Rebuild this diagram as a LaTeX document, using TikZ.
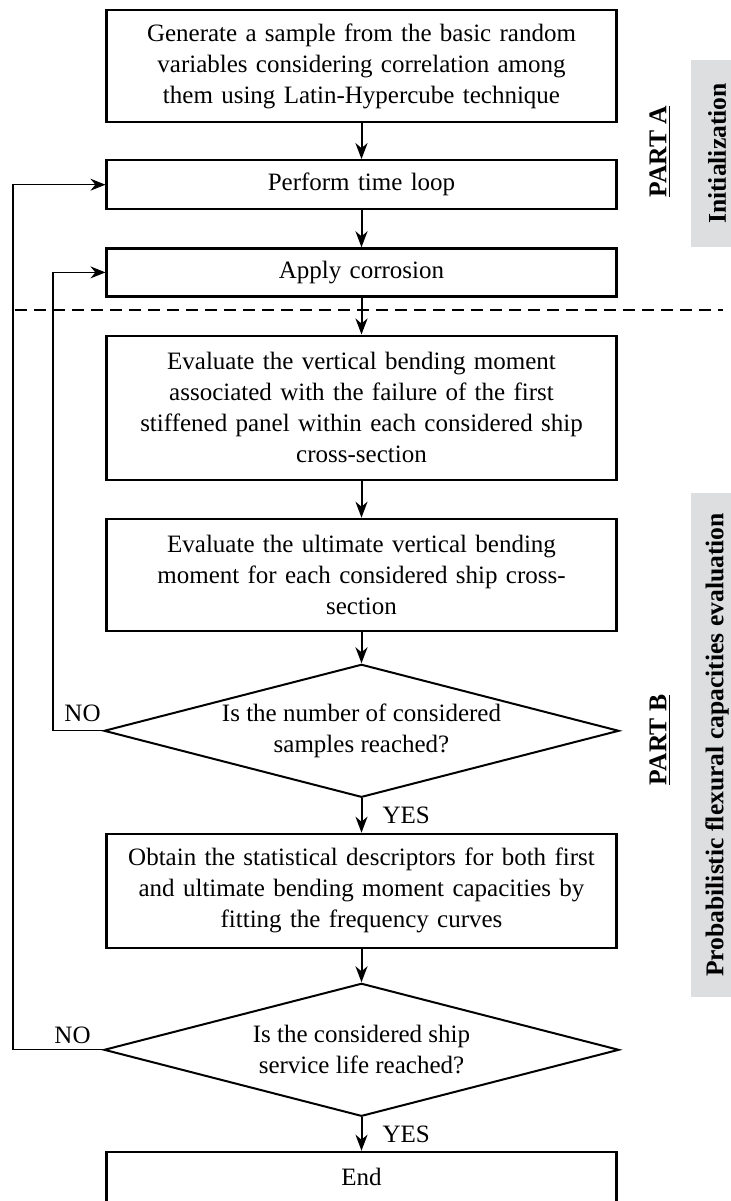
\documentclass[tikz,border=0pt]{standalone}
\usepackage{fontspec}
\setmainfont{Liberation Serif}
\usepackage{tikz}
\usetikzlibrary{shapes.geometric,arrows.meta,positioning}
\definecolor{panelgray}{RGB}{221,222,223}

\begin{document}
\begin{tikzpicture}[x=0.5pt, y=0.5pt,
        stepbox/.style={rectangle, draw=black, line width=1.1pt, text width=246pt,
                        inner xsep=4.5pt, inner ysep=3pt, align=center,
                        font=\fontsize{12.5}{15.5}\selectfont},
        decision/.style={diamond, draw=black, line width=1pt, aspect=3.95,
                         inner sep=0pt, minimum width=257.5pt, minimum height=66.5pt,
                         align=center, font=\fontsize{12.5}{15.5}\selectfont},
        lbl/.style={inner sep=1pt, font=\fontsize{12.5}{15.5}\selectfont},
        part/.style={rotate=90, inner sep=1pt,
                     font=\bfseries\fontsize{12.8}{15.5}\selectfont},
        panel/.style={rotate=90, fill=panelgray, inner sep=0pt, minimum height=26pt,
                      font=\bfseries\fontsize{12.8}{15.5}\selectfont},
        arr/.style={-{Stealth[length=8pt, width=6pt, inset=2.5pt]}, line width=1pt},
        backarr/.style={-{Stealth[length=7.5pt, width=6pt, inset=2.5pt]}, line width=0.55pt},
        sepline/.style={dash pattern=on 6pt off 3.5pt, line width=1pt}]
    \useasboundingbox (0,0) rectangle (730,-1201);
    \node[stepbox, minimum height=56pt] (sample) at (361.5,-66)
        {Generate a sample from the basic random\\variables considering correlation among\\them using Latin-Hypercube technique};
    \node[stepbox, minimum height=24.5pt, below=18pt of sample] (timeloop) {Perform time loop};
    \node[stepbox, minimum height=24pt, below=18.5pt of timeloop] (corrosion) {Apply corrosion};
    \node[stepbox, minimum height=72pt, below=18.5pt of corrosion] (firstfail)
        {Evaluate the vertical bending moment\\associated with the failure of the first\\stiffened panel within each considered ship\\cross-section};
    \node[stepbox, minimum height=56pt, below=18.5pt of firstfail] (ultimate)
        {Evaluate the ultimate vertical bending\\moment for each considered ship cross-\\section};
    \node[decision, below=15.7pt of ultimate] (samplesq) {Is the number of considered\\samples reached?};
    \node[stepbox, minimum height=57pt, below=17.2pt of samplesq] (descriptors)
        {Obtain the statistical descriptors for both first\\and ultimate bending moment capacities by\\fitting the frequency curves};
    \node[decision, below=16.7pt of descriptors] (lifeq) {Is the considered ship\\service life reached?};
    \node[stepbox, minimum height=25.5pt, below=16.7pt of lifeq] (finish) {End};

    \node[panel, minimum width=93.5pt] (initpanel) at (717,-153.5) {Initialization};
    \node[panel, minimum width=252pt] (probpanel) at (717,-745) {Probabilistic flexural capacities evaluation};
    \node[part] (parta) at (660,-151.5) {\underline{PART A}};
    \node[part] (partb) at (660,-740) {\underline{PART B}};

    \draw[sepline] (15,-310) -- (723,-310);

    \draw[arr] (sample) -- (timeloop);
    \draw[arr] (timeloop) -- (corrosion);
    \draw[arr] (corrosion) -- (firstfail);
    \draw[arr] (firstfail) -- (ultimate);
    \draw[arr] (ultimate) -- (samplesq);
    \draw[arr] (samplesq) -- node[lbl, right=9pt] (yesa) {YES} (descriptors);
    \draw[arr] (descriptors) -- (lifeq);
    \draw[arr] (lifeq) -- node[lbl, right=9pt] (yesb) {YES} (finish);

    \draw[backarr] (samplesq.west) -- ++(-50,0) |- (corrosion.west);
    \draw[backarr] (lifeq.west) -- ++(-90,0) |- (timeloop.west);
    \node[lbl, anchor=south east, yshift=3.5pt] (noa) at (samplesq.west) {NO};
    \node[lbl, anchor=south east, xshift=-5pt, yshift=2pt] (nob) at (lifeq.west) {NO};
\end{tikzpicture}
\end{document}
